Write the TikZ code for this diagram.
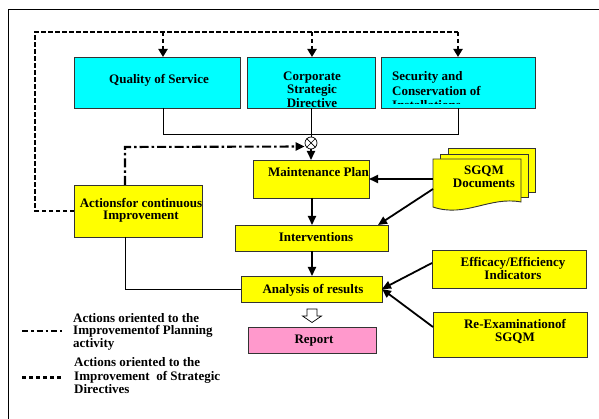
\documentclass[tikz,border=0pt]{standalone}
\usepackage{fontspec}
\setmainfont{Liberation Serif}
\usetikzlibrary{arrows.meta}
\definecolor{pinkc}{RGB}{255,153,204}
\definecolor{cyanc}{RGB}{0,255,255}
\definecolor{yellowc}{RGB}{255,255,0}
\definecolor{boxline}{RGB}{51,51,51}
\begin{document}
\begin{tikzpicture}[x=1pt,y=-1pt,
  box/.style={draw=boxline, line width=0.9pt, inner sep=0pt, outer sep=0pt},
  cbox/.style={box, fill=cyanc},
  ybox/.style={box, fill=yellowc},
  pbox/.style={box, fill=pinkc},
  txt/.style={font=\fontsize{13}{13}\selectfont\bfseries, inner sep=0pt, align=center, anchor=north, execute at begin node=\strut},
  ltxt/.style={txt, align=left, anchor=north west},
  thinline/.style={line width=0.8pt, draw=black},
  conn/.style={line width=1.8pt, -{Triangle[length=9pt,width=8pt]}},
  dashln/.style={line width=2.1pt, dash pattern=on 4.5pt off 2.5pt},
  dashconn/.style={dashln, -{Triangle[length=8pt,width=9pt]}},
  dotdash/.style={line width=2.1pt, dash pattern=on 9pt off 3pt on 2.5pt off 3pt},
  frame/.style={line width=0.8pt}
]
\path[use as bounding box] (0,0) rectangle (599,419);
\draw[frame] (8,419) -- (8,9.3) -- (599,9.3);

% boxes
\node[cbox, minimum width=166pt, minimum height=51pt] (qos) at (157,82.5) {};
\node[cbox, minimum width=128pt, minimum height=51pt] (csd) at (311,82.5) {};
\node[cbox, minimum width=154pt, minimum height=51pt] (sci) at (458,82.5) {};
\node[ybox, minimum width=116pt, minimum height=38pt] (mp) at (311,179) {};
\node[ybox, minimum width=128pt, minimum height=52pt] (acts) at (138,211) {};
\node[ybox, minimum width=153pt, minimum height=26pt] (int) at (311.5,238) {};
\node[ybox, minimum width=141pt, minimum height=26pt] (ana) at (311.5,289) {};
\node[pbox, minimum width=128pt, minimum height=26pt] (rep) at (312,340) {};
\node[ybox, minimum width=154pt, minimum height=38pt] (eff) at (509,269) {};
\node[ybox, minimum width=154pt, minimum height=45pt] (rex) at (510,334.5) {};

% SGQM documents (stack of pages)
\draw[box, fill=yellowc] (448,148) rectangle (535,192);
\draw[box, fill=yellowc] (440,154) rectangle (528,197);
\draw[box, fill=yellowc] (433,159) -- (521,159) -- (521,202)
  .. controls (490,196) and (465,218) .. (433,207) -- cycle;
\node[inner sep=0pt, outer sep=0pt, minimum width=88pt, minimum height=48pt] (doc) at (477,183) {};

% summing junction
\node[circle, draw, line width=0.7pt, fill=white, minimum size=12pt, inner sep=0pt] (jn) at (311,143) {};
\draw[line width=0.7pt] (jn.north west) -- (jn.south east) (jn.north east) -- (jn.south west);

% texts
\node[txt] (qos-t) at (159,73.9) {Quality of Service};
\begin{scope}
  \clip ([shift={(0.5pt,-0.5pt)}]csd.south west) rectangle ([shift={(-0.5pt,0.5pt)}]csd.north east);
  \node[txt, font=\fontsize{13}{13.7}\selectfont\bfseries] (csd-t) at (312,71.4) {Corporate\\Strategic\\Directive};
\end{scope}
\begin{scope}
  \clip (sci.north west) rectangle (535,104);
  \node[ltxt, font=\fontsize{13}{14.5}\selectfont\bfseries] (sci-t) at (392,71.4) {Security and\\Conservation of\\Installations};
\end{scope}
\node[ltxt] (mp-t) at (268,166.9) {Maintenance Plan};
\node[txt, font=\fontsize{13}{12}\selectfont\bfseries] (acts-t) at (141,198.5) {Actionsfor continuous\\Improvement};
\node[txt] (int-t) at (316,231.9) {Interventions};
\node[txt] (ana-t) at (313,283.9) {Analysis of results};
\node[txt] (rep-t) at (314,333.9) {Report};
\node[txt] (doc-t) at (484,165.9) {SGQM\\Documents};
\node[txt] (eff-t) at (513,256.9) {Efficacy/Efficiency\\Indicators};
\node[txt] (rex-t) at (515,318.9) {Re-Examinationof\\SGQM};

% strategic (dashed) feedback
\coordinate (dl) at (35,32);
\coordinate (dr) at (458,32);
\coordinate (dq) at (163,32);
\coordinate (dc) at (312,32);
\draw[dashln] (acts.west) -| (dl) -- (dr);
\draw[dashconn] (dq) -- (dq |- qos.north);
\draw[dashconn] (dc) -- (dc |- csd.north);
\draw[dashconn] (dr) -- (sci.north);

% thin collecting lines
\coordinate (jl) at (163,134);
\draw[thinline] (jl |- qos.south) -- (jl) -- (jl -| sci.south) -- (sci.south);
\draw[thinline] (csd.south) -- (jn.north);

% planning (dash-dot) feedback
\coordinate (ab) at (125,147);
\draw[dotdash, -{Triangle[length=9pt,width=8pt]}] (ab |- acts.north) -- (ab) -- ([yshift=-3.5pt]jn.west);

% main flow
\draw[conn] (jn.south) -- (mp.north);
\draw[conn] ([xshift=1pt]mp.south) -- ([xshift=0.5pt]int.north);
\draw[conn] ([xshift=0.5pt]int.south) -- ([xshift=0.5pt]ana.north);
\draw[thinline] (ab |- acts.south) |- (ana.west);

% inputs
\draw[conn] (mp.east -| doc.west) -- (mp.east);
\draw[conn] ([yshift=-6pt]doc.west) -- ([xshift=-10pt]int.north east);
\draw[conn] ([yshift=6pt]eff.west) -- (ana.east);
\draw[conn] ([yshift=7.5pt]rex.west) -- (ana.east);

% hollow arrow to report
\draw[line width=0.7pt, fill=white] (307,309) -- (317,309) -- (317,316) -- (321.5,316)
  -- (312,322.5) -- (302.5,316) -- (307,316) -- cycle;

% legend
\coordinate (l1a) at (22,331);
\coordinate (l1b) at (62,331);
\coordinate (l2a) at (22,377.5);
\coordinate (l2b) at (62,377.5);
\draw[dotdash, dash pattern=on 6pt off 3pt on 2.5pt off 3pt] (l1a) -- (l1b);
\draw[dashln, dash pattern=on 4pt off 3pt] (l2a) -- (l2b);
\node[ltxt, font=\fontsize{13}{12.5}\selectfont\bfseries] (leg1) at (73,312.9) {Actions oriented to the\\Improvementof Planning\\activity};
\node[ltxt, font=\fontsize{13}{13.5}\selectfont\bfseries] (leg2) at (74,357.6) {Actions oriented to the\\Improvement~\ of Strategic\\Directives};
\end{tikzpicture}
\end{document}
